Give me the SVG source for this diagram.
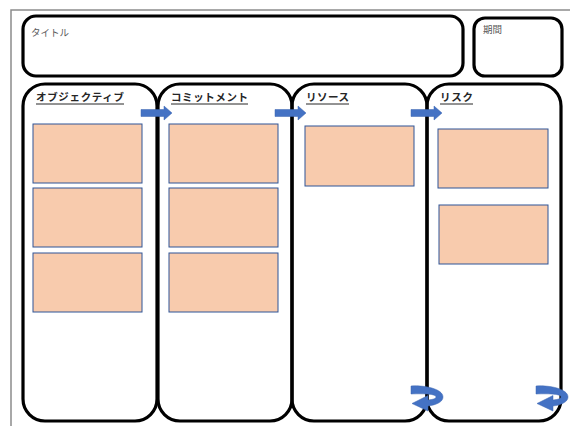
<svg xmlns="http://www.w3.org/2000/svg" width="570" height="426" viewBox="0 0 570 426">
<style>
.frame{fill:none;stroke:#000;stroke-width:3.2}
.card{fill:#F8CBAD;stroke:#2F5597;stroke-width:1}
.hdr{font-family:"Noto Sans CJK JP","Noto Sans",sans-serif;font-size:10.5px;font-weight:bold;fill:#262626}
.lbl{font-family:"Noto Sans CJK JP","Noto Sans",sans-serif;font-size:9.5px;fill:#595959}
.ul{stroke:#262626;stroke-width:1}
.arr{fill:#4472C4;stroke:#3A64B0;stroke-width:0.5}
</style>
<defs>
<path id="rarrow" d="M0,-3.5 H23 V-7 L31,0 L23,7 V3.5 H0 Z"/>
<path id="uturn" d="M0,0 C14,-1 32,3 32,11 C32,16 25,19 17,20 L17,25 L1,17.5 L17,9.5 L17,14 C22,13.5 25,12.5 25,11 C25,8 14,7.5 0,8 Z"/>
</defs>
<path d="M11,426 V10 H570" fill="none" stroke="#8c8c8c" stroke-width="1.5"/>
<g id="title">
<rect class="frame" x="23" y="16" width="440" height="60" rx="13"/>
<text class="lbl" x="31" y="36">タイトル</text>
</g>
<g id="period">
<rect class="frame" x="474" y="18" width="88" height="58" rx="11"/>
<text class="lbl" x="483" y="33">期間</text>
</g>
<g id="objective">
<rect class="frame" x="23" y="84" width="134" height="337" rx="22"/>
<text class="hdr" x="36" y="101" textLength="88">オブジェクティブ</text>
<line class="ul" x1="36" y1="104" x2="124" y2="104"/>
<rect class="card" x="33" y="124" width="109" height="59"/>
<rect class="card" x="33" y="188" width="109" height="59"/>
<rect class="card" x="33" y="253" width="109" height="59"/>
</g>
<g id="commitment">
<rect class="frame" x="158" y="84" width="134" height="337" rx="22"/>
<text class="hdr" x="171" y="101" textLength="77">コミットメント</text>
<line class="ul" x1="171" y1="104" x2="248" y2="104"/>
<rect class="card" x="169" y="124" width="109" height="59"/>
<rect class="card" x="169" y="188" width="109" height="59"/>
<rect class="card" x="169" y="253" width="109" height="59"/>
</g>
<g id="resource">
<rect class="frame" x="292" y="84" width="135" height="337" rx="22"/>
<text class="hdr" x="306" y="101" textLength="43">リソース</text>
<line class="ul" x1="306" y1="104" x2="349" y2="104"/>
<rect class="card" x="305" y="126" width="109" height="60"/>
</g>
<g id="risk">
<rect class="frame" x="427" y="84" width="134" height="337" rx="22"/>
<text class="hdr" x="440" y="101" textLength="33">リスク</text>
<line class="ul" x1="440" y1="104" x2="473" y2="104"/>
<rect class="card" x="438" y="129" width="110" height="59"/>
<rect class="card" x="439" y="205" width="109" height="59"/>
</g>
<g id="connectors">
<use href="#rarrow" class="arr" transform="translate(141,113)"/>
<use href="#rarrow" class="arr" transform="translate(275,113)"/>
<use href="#rarrow" class="arr" transform="translate(411,113)"/>
<use href="#uturn" class="arr" transform="translate(411,386)"/>
<use href="#uturn" class="arr" transform="translate(536,386)"/>
</g>
</svg>
